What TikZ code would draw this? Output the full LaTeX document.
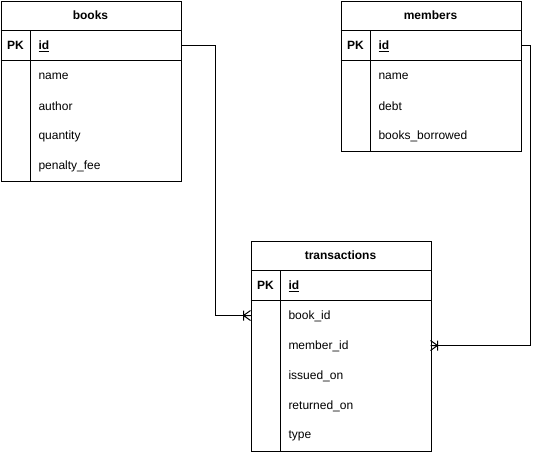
\documentclass[tikz,border=0pt]{standalone}
\usepackage{fontspec}
\setmainfont{Liberation Sans}
\begin{document}
\begin{tikzpicture}[x=1pt,y=-1pt,
  every node/.style={font=\fontsize{12}{14}\selectfont},
  ln/.style={line width=1pt},
  tblframe/.style={draw, line width=1pt, minimum width=180pt, inner sep=0pt, anchor=north west},
  ttl/.style={font=\fontsize{12}{14}\selectfont\bfseries, inner sep=0pt},
  row/.style={minimum height=30pt, inner sep=0pt, inner xsep=8pt, text width=134pt, align=left, yshift=-0.8pt},
  pk/.style={minimum width=30pt, minimum height=30pt, inner sep=0pt, font=\fontsize{12}{14}\selectfont\bfseries},
  rel/.style={line width=1pt},
  crowfoot/.pic={
    \draw[line width=1pt] (-7,0) -- (0,-5) (-7,0) -- (0,0) (-7,0) -- (0,5)
      (-7,-5) -- (-7,5);
  }
]
\useasboundingbox (0,0) rectangle (539,451);

% books
\node[tblframe, minimum height=180pt] (books) at (0.5,0.5) {};
\node[ttl] (books-t) at (90.5,15.5) {books};
\draw[ln] (0.5,30.5) -- (180.5,30.5) (0.5,60.5) -- (180.5,60.5) (30.5,30.5) -- (30.5,180.5);
\node[pk] (books-pk) at (15.5,45.5) {PK};
\node[row] (b-id) at (105.5,45.5) {\textbf{\underline{id}}};
\node[row] (b-name) at (105.5,75.5) {name};
\node[row] (b-author) at (105.5,105.5) {author};
\node[row] (b-qty) at (105.5,135.5) {quantity};
\node[row] (b-fee) at (105.5,165.5) {penalty\_fee};

% members
\node[tblframe, minimum height=150pt] (members) at (340.5,0.5) {};
\node[ttl] (members-t) at (430.5,15.5) {members};
\draw[ln] (340.5,30.5) -- (520.5,30.5) (340.5,60.5) -- (520.5,60.5) (370.5,30.5) -- (370.5,150.5);
\node[pk] (members-pk) at (355.5,45.5) {PK};
\node[row] (m-id) at (445.5,45.5) {\textbf{\underline{id}}};
\node[row] (m-name) at (445.5,75.5) {name};
\node[row] (m-debt) at (445.5,105.5) {debt};
\node[row] (m-bb) at (445.5,135.5) {books\_borrowed};

% transactions
\node[tblframe, minimum height=210pt] (trans) at (250.5,240.5) {};
\node[ttl] (trans-t) at (340.5,255.5) {transactions};
\draw[ln] (250.5,270.5) -- (430.5,270.5) (250.5,300.5) -- (430.5,300.5) (280.5,270.5) -- (280.5,450.5);
\node[pk] (trans-pk) at (265.5,285.5) {PK};
\node[row] (t-id) at (355.5,285.5) {\textbf{\underline{id}}};
\node[row] (t-book) at (355.5,315.5) {book\_id};
\node[row] (t-member) at (355.5,345.5) {member\_id};
\node[row] (t-issued) at (355.5,375.5) {issued\_on};
\node[row] (t-returned) at (355.5,405.5) {returned\_on};
\node[row] (t-type) at (355.5,435.5) {type};

% relations
\coordinate (c1) at (215.5,45.5);
\coordinate (e1) at (250.5,315.5);
\draw[rel] (books.east |- 0,45.5) -- (c1) |- (e1);
\pic at (e1) {crowfoot};

\coordinate (c2) at (530.5,45.5);
\coordinate (e2) at (430.5,345.5);
\draw[rel] (members.east |- 0,45.5) -- (c2) |- (e2);
\pic[rotate=180] at (e2) {crowfoot};
\end{tikzpicture}
\end{document}
